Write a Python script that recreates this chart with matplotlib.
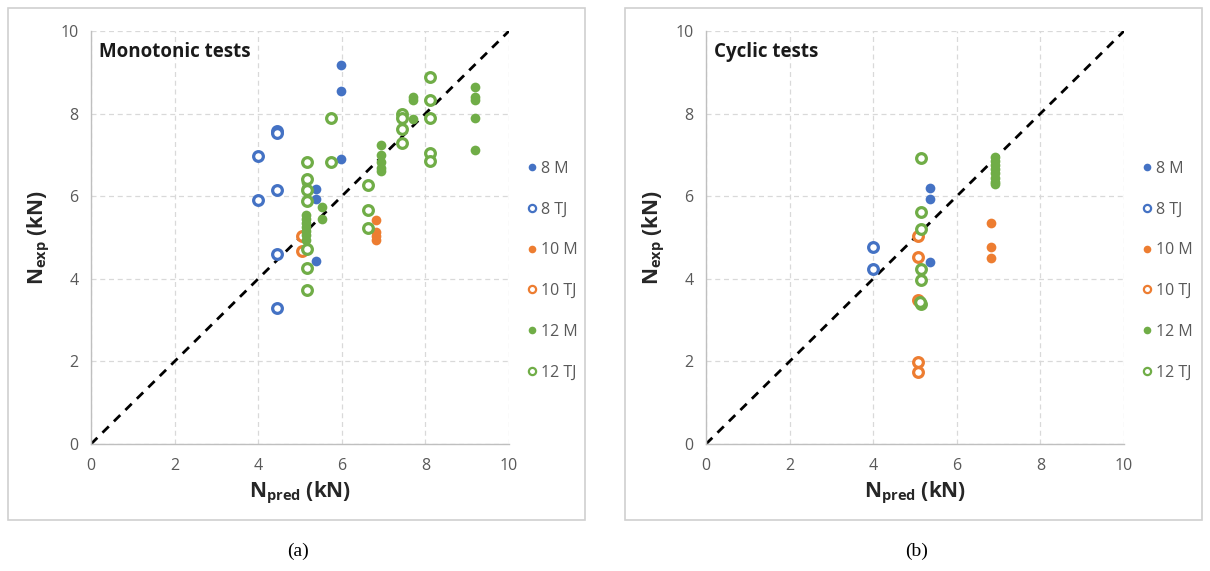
import matplotlib
matplotlib.use('Agg')
import matplotlib.pyplot as plt
from matplotlib.patches import Rectangle
from matplotlib.lines import Line2D

plt.rcParams['font.family'] = ['Open Sans', 'DejaVu Sans']
plt.rcParams['mathtext.fontset'] = 'custom'
plt.rcParams['mathtext.rm'] = 'Open Sans:bold'
plt.rcParams['mathtext.default'] = 'rm'

#--------------------------------------------------------------------------------------------------
# DATA
#--------------------------------------------------------------------------------------------------

# (a) monotonic tests
mono_8m_x = [5.98, 5.98, 5.98, 5.39, 5.39, 5.39]
mono_8m_y = [9.17, 8.55, 6.89, 6.18, 5.94, 4.42]
mono_8tj_x = [4.0, 4.0, 4.45, 4.45, 4.45, 4.45, 4.45]
mono_8tj_y = [6.97, 5.92, 7.59, 7.52, 6.16, 4.60, 3.30]
mono_10m_x = [6.82, 6.82, 6.82, 6.82]
mono_10m_y = [5.43, 5.13, 5.04, 4.95]
mono_10tj_x = [5.05, 5.05]
mono_10tj_y = [5.04, 4.67]
mono_12m_x = [5.15, 5.15, 5.15, 5.15, 5.15, 5.15, 5.15, 5.15, 5.15, 5.15,
              5.52, 5.52, 6.94, 6.94, 6.94, 6.94, 6.94, 7.7, 7.7, 7.7,
              9.18, 9.18, 9.18, 9.18, 9.18]
mono_12m_y = [6.42, 6.35, 6.2, 5.55, 5.45, 5.35, 5.25, 5.15, 5.05, 4.95,
              5.75, 5.44, 7.25, 6.99, 6.82, 6.68, 6.6, 8.39, 8.33, 7.87,
              8.64, 8.39, 8.33, 7.89, 7.13]
mono_12tj_x = [5.17, 5.17, 5.17, 5.17, 5.17, 5.17, 5.17, 5.74, 5.74,
               6.63, 6.63, 6.63, 7.45, 7.45, 7.45, 7.45,
               8.1, 8.1, 8.1, 8.1, 8.1]
mono_12tj_y = [6.84, 6.42, 6.16, 5.88, 4.71, 4.25, 3.74, 7.89, 6.84,
               6.26, 5.66, 5.24, 8.0, 7.89, 7.63, 7.29,
               8.88, 8.33, 7.89, 7.04, 6.86]

# (b) cyclic tests
cyc_8m_x = [5.36, 5.36, 5.36]
cyc_8m_y = [6.21, 5.93, 4.41]
cyc_8tj_x = [4.0, 4.0]
cyc_8tj_y = [4.78, 4.23]
cyc_10m_x = [6.82, 6.82, 6.82]
cyc_10m_y = [5.36, 4.78, 4.51]
cyc_10tj_x = [5.07, 5.07, 5.07, 5.07, 5.07]
cyc_10tj_y = [5.04, 4.52, 3.48, 1.98, 1.74]
cyc_12m_x = [6.91, 6.91, 6.91, 6.91, 6.91, 6.91, 6.91, 6.91]
cyc_12m_y = [6.94, 6.85, 6.75, 6.65, 6.55, 6.45, 6.35, 6.30]
cyc_12tj_x = [5.14, 5.14, 5.14, 5.14, 5.14, 5.14, 5.12]
cyc_12tj_y = [6.92, 5.62, 5.20, 4.23, 3.98, 3.39, 3.45]

labels = ['8 M', '8 TJ', '10 M', '10 TJ', '12 M', '12 TJ']
colors = ['#4472C4', '#4472C4', '#ED7D31', '#ED7D31', '#70AD47', '#70AD47']
filled = [True, False, True, False, True, False]

mono = [(mono_8m_x, mono_8m_y), (mono_8tj_x, mono_8tj_y), (mono_10m_x, mono_10m_y),
        (mono_10tj_x, mono_10tj_y), (mono_12m_x, mono_12m_y), (mono_12tj_x, mono_12tj_y)]
cyc = [(cyc_8m_x, cyc_8m_y), (cyc_8tj_x, cyc_8tj_y), (cyc_10m_x, cyc_10m_y),
       (cyc_10tj_x, cyc_10tj_y), (cyc_12m_x, cyc_12m_y), (cyc_12tj_x, cyc_12tj_y)]

#--------------------------------------------------------------------------------------------------
# PLOT
#--------------------------------------------------------------------------------------------------

fig = plt.figure(figsize=(12.1, 5.71), dpi=100)

# panel frames
for x0 in [8 / 1210, 625 / 1210]:
    fig.patches.append(Rectangle((x0, 51 / 571), 577 / 1210, 512 / 571, transform=fig.transFigure,
                                 fill=False, edgecolor='#D0D0D0', linewidth=1.2))


def draw(ax, series, title):
    ax.plot([0, 10], [0, 10], color='black', linestyle=(0, (3.2, 2.6)), linewidth=2.0, zorder=2)
    for (xs, ys), lab, c, f in zip(series, labels, colors, filled):
        if f:
            ax.plot(xs, ys, 'o', color=c, markersize=7.0, markeredgewidth=0, zorder=3)
        else:
            ax.plot(xs, ys, 'o', markerfacecolor='white', markeredgecolor=c, markersize=7.0,
                    markeredgewidth=2.3, zorder=3)
    ax.set_xlim(0, 10)
    ax.set_ylim(0, 10)
    ax.set_xticks(range(0, 11, 2))
    ax.set_yticks(range(0, 11, 2))
    ax.grid(True, color='#D9D9D9', linestyle=(0, (4, 3)), linewidth=0.9)
    ax.set_axisbelow(True)
    for s in ['top', 'right']:
        ax.spines[s].set_visible(False)
    for s in ['left', 'bottom']:
        ax.spines[s].set_color('#BFBFBF')
        ax.spines[s].set_linewidth(1.0)
    ax.tick_params(length=0, labelsize=11.5, labelcolor='#595959')
    ax.tick_params(axis='x', pad=10)
    ax.tick_params(axis='y', pad=9)
    ax.set_xlabel(r'N$_{\mathrm{pred}}$ (kN)', fontsize=15, fontweight='bold', color='#262626', labelpad=4)
    ax.set_ylabel(r'N$_{\mathrm{exp}}$ (kN)', fontsize=15, fontweight='bold', color='#262626', labelpad=6)
    ax.text(0.02, 0.948, title, transform=ax.transAxes, fontsize=13.5, fontweight='bold',
            color='#1A1A1A', va='center', ha='left')

    handles = []
    for lab, c, f in zip(labels, colors, filled):
        if f:
            h = Line2D([], [], marker='o', linestyle='none', color=c, markersize=5.5, markeredgewidth=0)
        else:
            h = Line2D([], [], marker='o', linestyle='none', markerfacecolor='white', markeredgecolor=c,
                       markersize=5.2, markeredgewidth=1.6)
        handles.append(h)
    leg = ax.legend(handles, labels, loc='center left', bbox_to_anchor=(1.02, 0.42), frameon=False,
                    fontsize=11.5, labelspacing=1.55, handletextpad=0.1, handlelength=1.0,
                    borderaxespad=0)
    for t in leg.get_texts():
        t.set_color('#595959')


ax1 = fig.add_axes([91 / 1210, 127 / 571, 418 / 1210, 413 / 571])
draw(ax1, mono, 'Monotonic tests')
ax2 = fig.add_axes([706 / 1210, 127 / 571, 418 / 1210, 413 / 571])
draw(ax2, cyc, 'Cyclic tests')

fig.text(298 / 1210, 1 - 551 / 571, '(a)', fontsize=14, family='Liberation Serif', ha='center', va='center')
fig.text(917 / 1210, 1 - 551 / 571, '(b)', fontsize=14, family='Liberation Serif', ha='center', va='center')

fig.savefig('out.png', dpi=100)
